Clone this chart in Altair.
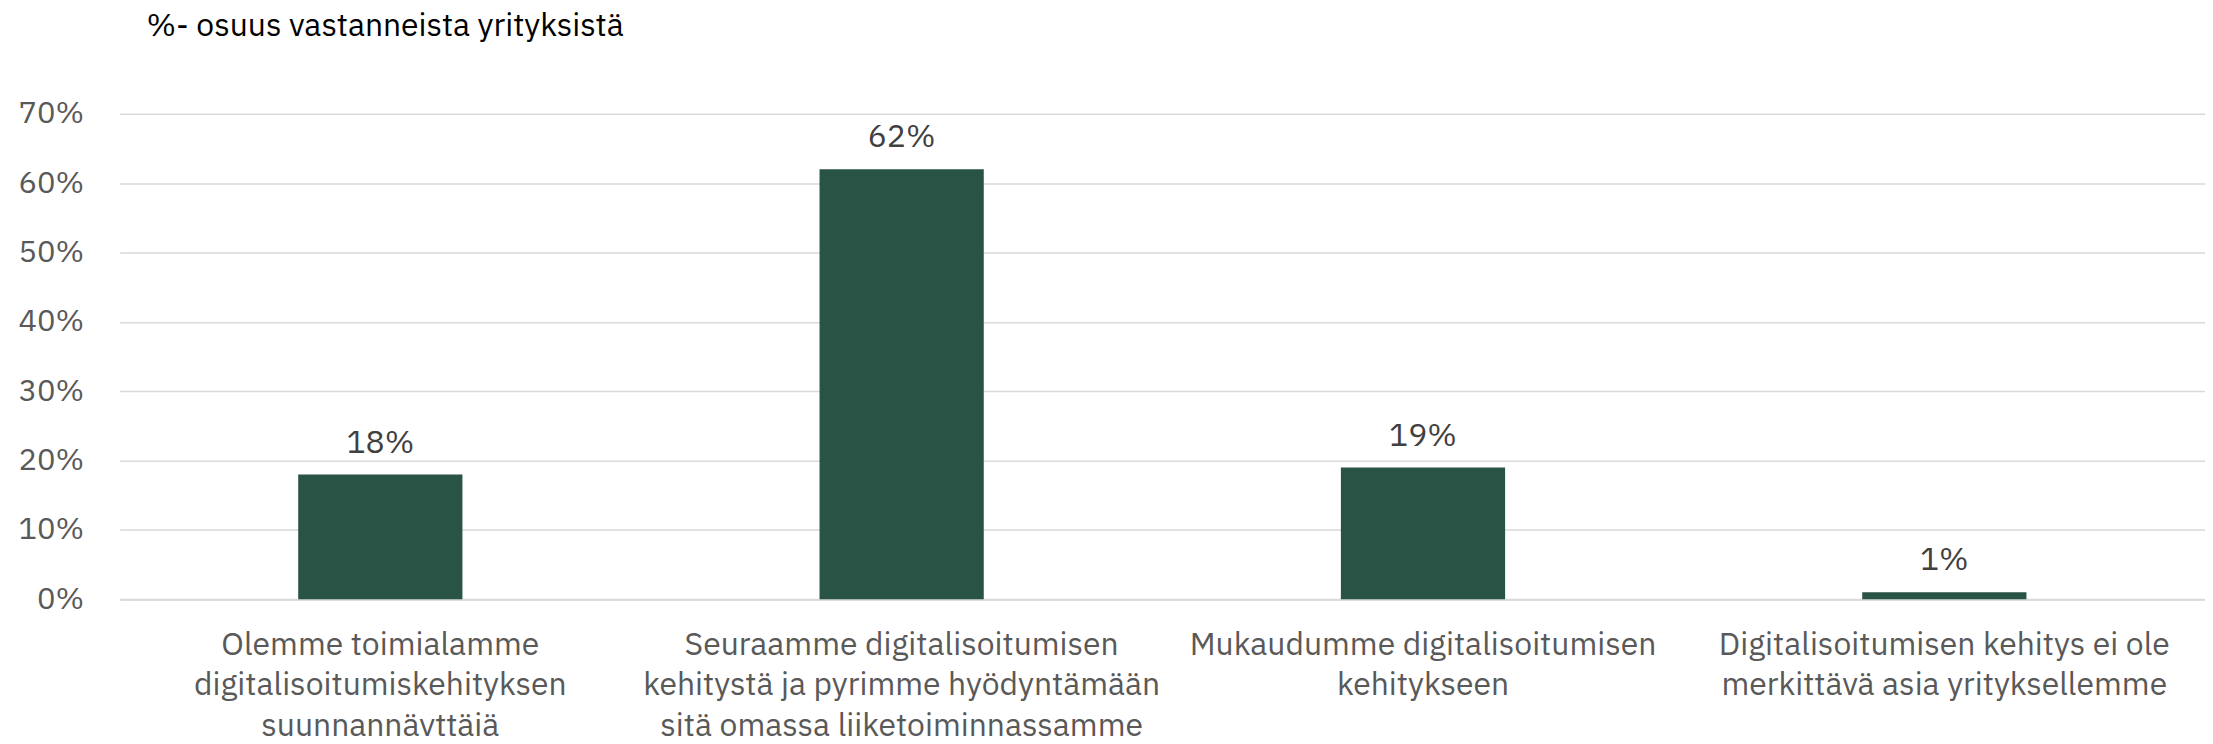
import altair as alt
import pandas as pd

categories = [
    "Olemme toimialamme|digitalisoitumiskehityksen|suunnannäyttäjä",
    "Seuraamme digitalisoitumisen|kehitystä ja pyrimme hyödyntämään|sitä omassa liiketoiminnassamme",
    "Mukaudumme digitalisoitumisen|kehitykseen",
    "Digitalisoitumisen kehitys ei ole|merkittävä asia yrityksellemme",
]
values = [0.18, 0.62, 0.19, 0.01]
title_text = "%- osuus vastanneista yrityksistä"

FONT = "IBM Plex Sans, Roboto, sans-serif"

df = pd.DataFrame({"cat": categories, "val": values})

x = alt.X(
    "cat:N",
    sort=categories,
    title=None,
    scale=alt.Scale(paddingInner=0.685, paddingOuter=0.3425),
    axis=alt.Axis(
        labelExpr="split(datum.label, '|')",
        labelAngle=0,
        labelFont=FONT,
        labelFontSize=32,
        labelColor="#595959",
        labelLineHeight=41,
        labelPadding=30,
        ticks=False,
        domain=True,
        domainColor="#d9d9d9",
        domainWidth=2,
        labelLimit=600,
    ),
)
y = alt.Y(
    "val:Q",
    title=None,
    scale=alt.Scale(domain=[0, 0.7]),
    axis=alt.Axis(
        format=".0%",
        values=[0, 0.1, 0.2, 0.3, 0.4, 0.5, 0.6, 0.7],
        labelFont=FONT,
        labelFontSize=31,
        labelColor="#595959",
        labelPadding=36,
        ticks=False,
        domain=False,
        gridColor="#d9d9d9",
        gridWidth=1.5,
    ),
)

base = alt.Chart(df).encode(x=x, y=y)
bars = base.mark_bar(color="#285345")
labels = base.mark_text(
    dy=-15, font=FONT, fontSize=32, color="#404040", baseline="bottom"
).encode(text=alt.Text("val:Q", format=".0%"))

chart = (
    (bars + labels)
    .properties(
        width=2092,
        height=487,
        padding={"left": 112, "top": 105, "right": 0, "bottom": 136},
        autosize=alt.AutoSizeParams(type="none"),
        title=alt.TitleParams(
            title_text,
            anchor="start",
            frame="group",
            dx=27,
            offset=55,
            font=FONT,
            fontSize=32,
            fontWeight="normal",
            color="#000000",
        ),
    )
    .configure_view(stroke=None)
)

chart.save("out.html", embed_options={"renderer": "svg", "actions": False})
